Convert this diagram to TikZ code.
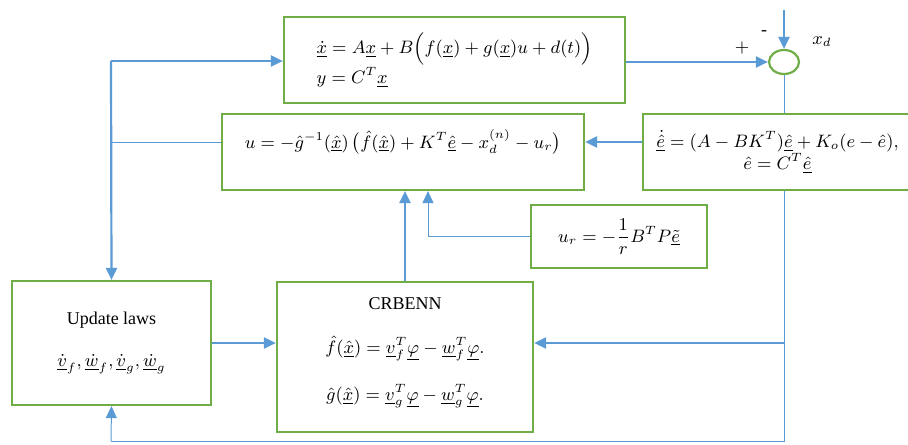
\documentclass[tikz,border=0pt]{standalone}
\usepackage{amsmath}
\usepackage{fontspec}
\setmainfont{Liberation Serif}
\usetikzlibrary{arrows.meta, positioning, calc, shapes.geometric}
\definecolor{boxgreen}{RGB}{112,173,71}
\definecolor{flowblue}{RGB}{91,155,213}

\begin{document}
\begin{tikzpicture}[x=0.5pt, y=-0.5pt,
  blk/.style={rectangle, draw=boxgreen, line width=1.1pt, inner sep=2pt},
  sumnode/.style={ellipse, draw=boxgreen, line width=1.1pt, minimum width=15pt, minimum height=12pt, inner sep=0pt},
  feed/.style={draw=flowblue, line width=1.1pt},
  link/.style={draw=flowblue, line width=0.5pt},
  tip/.style={-{Triangle[length=6pt, width=5.5pt]}},
  every node/.style={font=\fontsize{9}{11}\selectfont}
]
  \clip (0,0) rectangle (908,444);

  % blocks
  \node[blk, minimum width=170.5pt, minimum height=43pt, align=left] (plant) at (454.5,60)
    {$\underline{\dot{x}} = A\underline{x} + B\Big(f(\underline{x}) + g(\underline{x})u + d(t)\Big)$\\
     $y = C^T\underline{x}$};
  \node[blk, minimum width=181pt, minimum height=38pt, align=center] (ctrl) at (403,152)
    {$u = -\hat{g}^{-1}(\underline{\hat{x}})\,\big(\hat{f}(\underline{\hat{x}}) + K^T\underline{\hat{e}} - x_d^{(n)} - u_r\big)$\\[2pt]\mbox{}};
  \node[blk, minimum width=134.5pt, minimum height=38pt, align=center] (obs) at (777.5,152)
    {$\underline{\dot{\hat{e}}} = (A - BK^T)\underline{\hat{e}} + K_o(e - \hat{e}),$\\
     $\hat{e} = C^T\underline{\hat{e}}$};
  \node[blk, minimum width=88pt, minimum height=31.5pt] (ur) at (619,236.5)
    {$u_r = -\dfrac{1}{r}B^T P\underline{\tilde{e}}$};
  \node[blk, minimum width=128pt, minimum height=75pt, align=center] (nn) at (405,357)
    {CRBENN\\[11pt]
     $\hat{f}(\underline{\hat{x}}) = \underline{v}_f^T\underline{\varphi} - \underline{w}_f^T\underline{\varphi}.$\\[11pt]
     $\hat{g}(\underline{\hat{x}}) = \underline{v}_g^T\underline{\varphi} - \underline{w}_g^T\underline{\varphi}.$\\[-3pt]\mbox{}};
  \node[blk, minimum width=99.5pt, minimum height=62pt, align=center] (upd) at (111.5,343)
    {Update laws\\[10pt]
     $\underline{\dot{v}}_f, \underline{\dot{w}}_f, \underline{\dot{v}}_g, \underline{\dot{w}}_g$};
  \node[sumnode] (sum) at (784,62) {};

  % signs
  \node (plus) at (742,48) {$+$};
  \node (minus) at (764,33) {-};
  \node (xd) at (822,42) {$x_d$};

  % corners
  \coordinate (xdin) at (784,10);
  \coordinate (lt) at (111,61);
  \coordinate (br) at (784,441);
  \coordinate (bl) at (111,441);
  \coordinate (urup) at (428,236.5);

  % connectors
  \draw[feed, tip] (xdin) -- (sum.north);
  \draw[feed, tip] (plant.east |- sum) -- (sum.west);
  \draw[link] (sum.south) -- (sum.south |- obs.north);
  \draw[link] (sum |- obs.south) -- (br) -- (bl);
  \draw[link, tip] (bl) -- (upd.south);
  \draw[feed, tip] (sum |- upd.east) -- (nn.east |- upd.east);
  \draw[feed, tip] (upd.east) -- (nn.west |- upd.east);
  \draw[feed, tip] ($(obs.west)+(0,-10)$) -- ($(ctrl.east)+(0,-10)$);
  \draw[link] ($(ctrl.west)+(0,-10)$) -- (lt |- {$(ctrl.west)+(0,-10)$});
  \draw[feed, tip] (lt) -- (plant.west |- lt);
  \draw[feed, tip] (lt) -- (upd.north);
  \draw[feed, tip] (nn.north) -- (nn.north |- ctrl.south);
  \draw[link, tip] (ur.west) -- (urup) -- (urup |- ctrl.south);
\end{tikzpicture}
\end{document}
